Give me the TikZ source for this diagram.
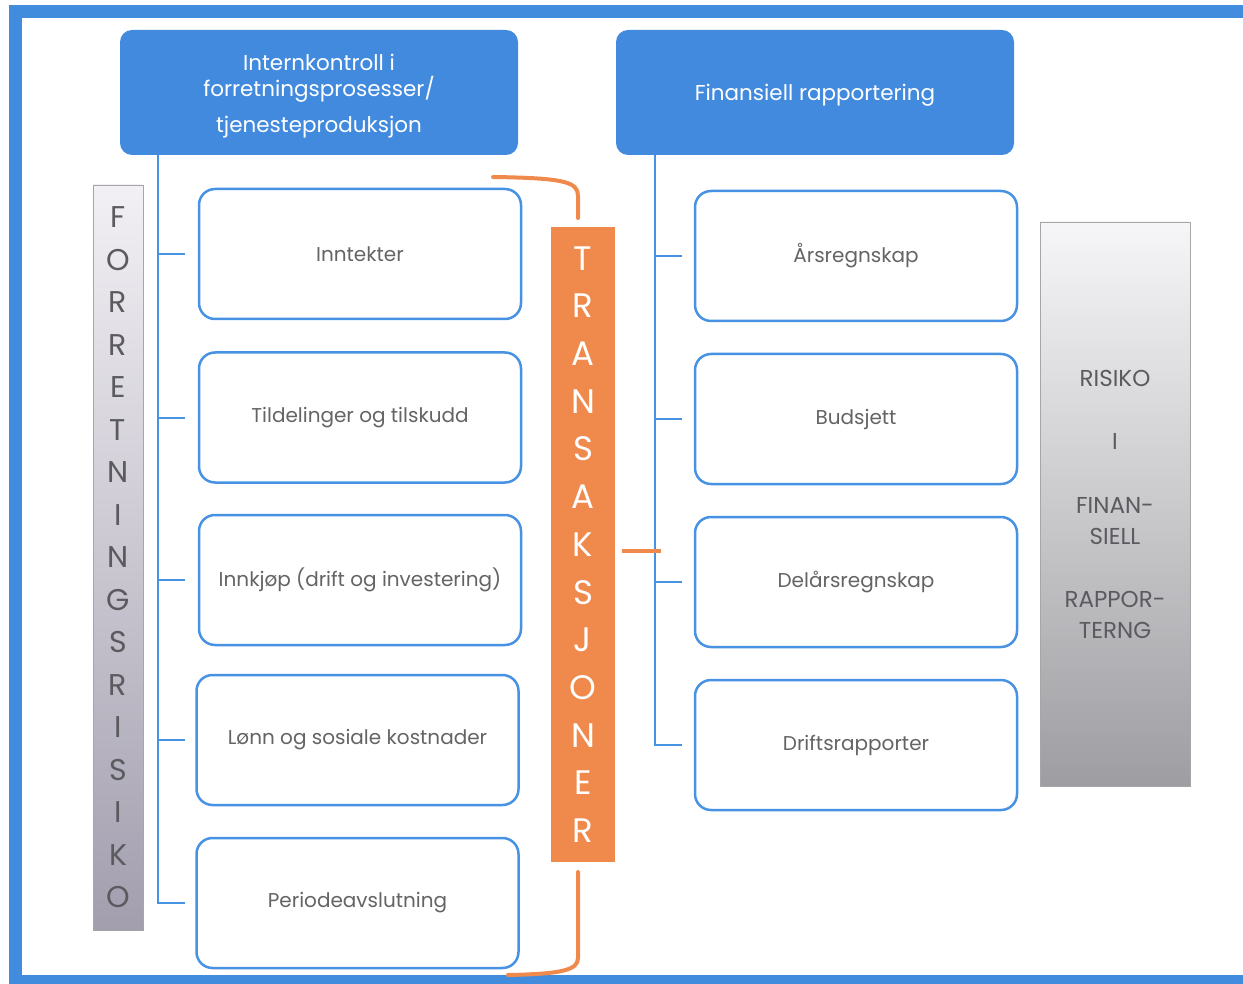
\documentclass[tikz,border=0pt]{standalone}
\usepackage{fontspec}
\setmainfont{Poppins}
\usetikzlibrary{positioning,calc}
\definecolor{frameblue}{RGB}{66,140,222}
\definecolor{boxblue}{RGB}{72,146,228}
\definecolor{hdrblue}{RGB}{66,138,222}
\definecolor{trorange}{RGB}{240,138,76}
\definecolor{txtgray}{RGB}{100,100,100}
\definecolor{bartxt}{RGB}{90,90,95}
\definecolor{lbartop}{RGB}{242,240,244}
\definecolor{lbarbot}{RGB}{162,158,174}
\definecolor{rbartop}{RGB}{246,246,248}
\definecolor{rbarbot}{RGB}{158,158,162}

\begin{document}
\begin{tikzpicture}[x=1pt,y=-1pt,
					hdr/.style={fill=hdrblue, rounded corners=12pt, minimum width=398pt, minimum height=125pt,
						text=white, align=center, inner sep=0pt, font=\fontsize{21.5}{26}\selectfont},
					item/.style={draw=boxblue, line width=2.5pt, rounded corners=16pt, fill=white,
						minimum width=322pt, minimum height=130pt, text=txtgray, inner sep=0pt,
						font=\fontsize{20}{24}\selectfont},
					link/.style={draw=boxblue, line width=2pt},
					bracket/.style={draw=trorange, line width=4pt, line cap=round}]
				\useasboundingbox (0,0) rectangle (1243,984);
				\draw[frameblue, line width=13pt] (15,12) rectangle (1270,981);
				% headers
				\node[hdr] (hdrL) at (319,92.5) {};
				\node[text=white, align=center, font=\fontsize{21.5}{26}\selectfont] (hdrLtxt) at (319,96)
					{Internkontroll i\\ forretningsprosesser/\\[10pt] tjenesteproduksjon};
				\node[hdr] (hdrR) at (815,92.5) {};
				\node[text=white, font=\fontsize{21.5}{26}\selectfont] (hdrRtxt) at (815,95) {Finansiell rapportering};
				% left column
				\node[item] (inn) at (360,254) {Inntekter};
				\node[item] (til) at (360,417.5) {Tildelinger og tilskudd};
				\node[item] (kjop) at (360,580) {Innkjøp (drift og investering)};
				\node[item] (lonn) at (357.5,740) {Lønn og sosiale kostnader};
				\node[item] (per) at (357.5,903) {Periodeavslutning};
				% right column
				\node[item] (aars) at (856,256) {Årsregnskap};
				\node[item] (bud) at (856,419) {Budsjett};
				\node[item] (del) at (856,582) {Delårsregnskap};
				\node[item] (drift) at (856,745) {Driftsrapporter};
				% side bars
				\node[draw=gray!70, shade, top color=lbartop, bottom color=lbarbot,
					minimum width=50pt, minimum height=745pt, inner sep=0pt, align=center, text=bartxt,
					font=\fontsize{30}{42.5}\selectfont] (frisk) at (118,557.5)
					{F\\O\\R\\R\\E\\T\\N\\I\\N\\G\\S\\R\\I\\S\\I\\K\\O};
				\node[fill=trorange, minimum width=64pt, minimum height=635pt, inner sep=0pt, align=center,
					text=white, font=\fontsize{34}{47.7}\selectfont] (trans) at (583,544.5)
					{T\\R\\A\\N\\S\\A\\K\\S\\J\\O\\N\\E\\R};
				\node[draw=gray!70, shade, top color=rbartop, bottom color=rbarbot,
					minimum width=150pt, minimum height=564pt, inner sep=0pt, align=center, text=bartxt,
					font=\fontsize{23}{31}\selectfont] (rrisk) at (1115,504)
					{RISIKO\\[32pt] I\\[33pt] FINAN-\\ SIELL\\[32pt] RAPPOR-\\ TERNG};
				% trunks
				\coordinate (trunkL) at (158,155);
				\coordinate (trunkR) at (655,155);
				\draw[link] (trunkL) -- (trunkL |- per.west) -- ++(27,0);
				\foreach \b in {inn,til,kjop,lonn}
					\draw[link] (trunkL |- \b.west) -- ++(27,0);
				\draw[link] (trunkR) -- (trunkR |- drift.west) -- ++(27,0);
				\foreach \b in {aars,bud,del}
					\draw[link] (trunkR |- \b.west) -- ++(27,0);
				% orange brackets
				\draw[bracket] (493,177) .. controls (565,178) and (578,182) .. (578,196) -- (578,218);
				\draw[bracket] (578,872) -- (578,958) .. controls (578,970) and (562,974) .. (508,975);
				\draw[bracket, line cap=butt] ($(trans.east)+(7,6.5)$) -- ($(trunkR |- 0,551)+(6,0)$);
			\end{tikzpicture}
\end{document}
